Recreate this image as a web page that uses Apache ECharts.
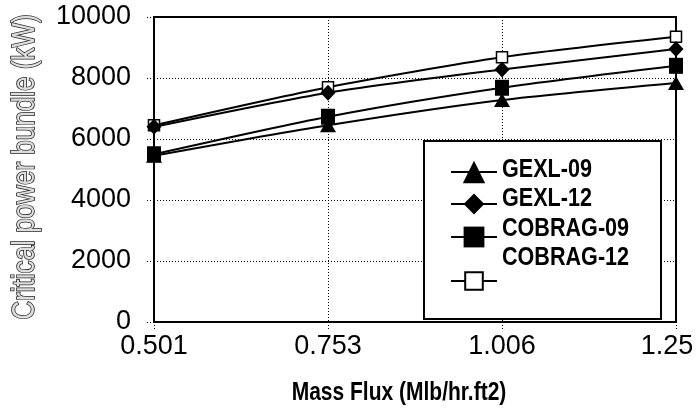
<!DOCTYPE html>
<html>
<head>
<meta charset="utf-8">
<script src="https://cdn.jsdelivr.net/npm/echarts@6/dist/echarts.min.js"></script>
<style>html,body{margin:0;padding:0;background:#fff}#c{width:696px;height:412px}</style>
</head>
<body>
<div id="c"></div>
<script>
const massFlux = ['0.501', '0.753', '1.006', '1.25'];
const gexl09 = [5450, 6450, 7280, 7840];
const gexl12 = [6400, 7520, 8280, 8950];
const cobrag09 = [5500, 6730, 7680, 8400];
const cobrag12 = [6450, 7700, 8680, 9350];
const seriesNames = ['GEXL-09', 'GEXL-12', 'COBRAG-09', 'COBRAG-12'];

const REG = '"Liberation Sans", Arial, sans-serif';
const NARROW_SCALE = 0.83;

const markerDefs = [
  { symbol: 'triangle', size: [16, 14], fill: '#000', z: 2, legendH: 28 },
  { symbol: 'diamond', size: [15, 16], fill: '#000', z: 4, legendH: 26 },
  { symbol: 'rect', size: [14, 16], fill: '#000', z: 5, legendH: 26 },
  { symbol: 'rect', size: [11, 11], fill: '#fff', z: 3, legendH: 22 }
];
const values = [gexl09, gexl12, cobrag09, cobrag12];

const series = seriesNames.map((name, i) => ({
  name: name,
  type: 'line',
  data: values[i],
  smooth: 0.25,
  symbol: markerDefs[i].symbol,
  symbolSize: markerDefs[i].size,
  z: markerDefs[i].z,
  clip: false,
  lineStyle: { color: '#000', width: 2 },
  itemStyle: { color: markerDefs[i].fill, borderColor: '#000', borderWidth: markerDefs[i].fill === '#fff' ? 1.5 : 0 },
  emphasis: { disabled: true }
}));

const legendTops = [172, 204, 237, 281];
const legends = seriesNames.map((name, i) => ({
  data: [name],
  left: 450,
  top: legendTops[i] - markerDefs[i].legendH / 2,
  itemWidth: 46,
  itemHeight: markerDefs[i].legendH,
  padding: 0,
  selectedMode: false,
  formatter: () => '',
  textStyle: { fontSize: 1 },
  z: 6
}));
const labelYs = [170, 199, 229, 258];

const chart = echarts.init(document.getElementById('c'), null, { renderer: 'canvas' });
chart.setOption({
  animation: false,
  backgroundColor: '#fff',
  grid: { left: 154, right: 20, top: 17, bottom: 90, outerBoundsMode: 'none', containLabel: false, show: true, borderColor: '#000', borderWidth: 2, backgroundColor: 'transparent' },
  xAxis: {
    type: 'category',
    data: massFlux,
    boundaryGap: false,
    axisLine: { show: true, lineStyle: { color: '#000', width: 2 } },
    axisTick: { show: true, length: 7, inside: false, lineStyle: { color: '#000', type: [1, 2], width: 1 } },
    axisLabel: {
      fontFamily: REG, fontSize: 27, color: '#000', margin: 11, interval: 0,
      formatter: (v, idx) => idx === massFlux.length - 1 ? '{last|' + v + '}' : v,
      rich: { last: { fontFamily: REG, fontSize: 27, color: '#000', padding: [0, 18, 0, 0] } }
    },
    splitLine: { show: true, interval: 0, lineStyle: { color: '#000', type: [1, 2], width: 1 } }
  },
  yAxis: {
    type: 'value',
    min: 0,
    max: 10000,
    interval: 2000,
    axisLine: { show: true, lineStyle: { color: '#000', width: 2 } },
    axisTick: { show: true, length: 7, lineStyle: { color: '#000', type: [1, 2], width: 1 } },
    axisLabel: { fontFamily: REG, fontSize: 27, color: '#000', margin: 23, formatter: v => String(v) },
    splitLine: { show: true, lineStyle: { color: '#000', type: [1, 2], width: 1 } }
  },
  legend: legends,
  graphic: [
    { type: 'rect', z: 5, shape: { x: 424, y: 141, width: 237, height: 178 }, style: { fill: '#fff', stroke: '#000', lineWidth: 2 } },
    ...seriesNames.map((name, i) => ({ type: 'text', z: 7, x: 502, y: labelYs[i], scaleX: NARROW_SCALE, style: { text: name, font: 'bold 26px ' + REG, fill: '#000', verticalAlign: 'middle' } })),
    { type: 'text', z: 7, x: 399, y: 393, scaleX: 0.84, style: { text: 'Mass Flux (Mlb/hr.ft2)', font: 'bold 25px ' + REG, fill: '#000', align: 'center', verticalAlign: 'middle' } },
    { type: 'text', z: 7, x: 25, y: 167, rotation: Math.PI / 2, scaleX: 0.84, style: { text: 'Critical power bundle (kW)', font: '31px ' + REG, fill: '#ddd', stroke: '#222', lineWidth: 1.6, align: 'center', verticalAlign: 'middle' } }
  ],
  series: series
});
</script>
</body>
</html>
